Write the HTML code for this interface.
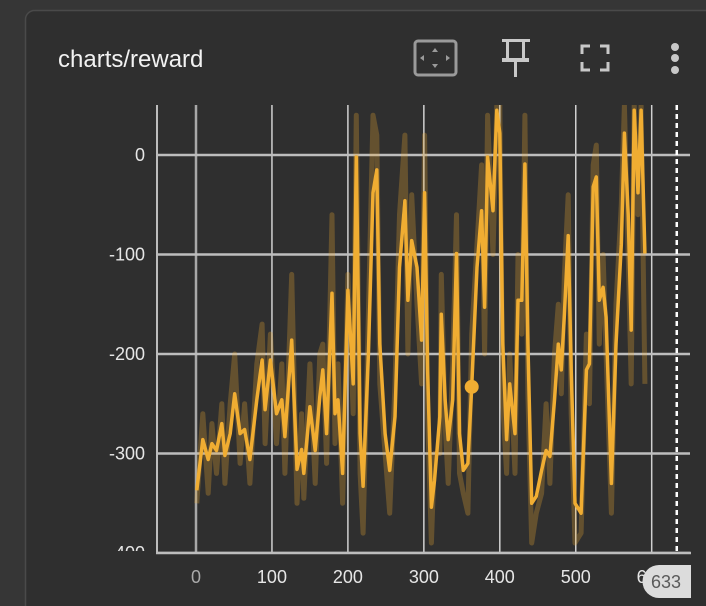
<!DOCTYPE html>
<html><head><meta charset="utf-8"><style>
html,body{margin:0;padding:0;background:#363636;width:706px;height:606px;overflow:hidden;font-family:"Liberation Sans",sans-serif}
svg{display:block}
</style></head><body>
<svg id="chart" width="706" height="606" xmlns="http://www.w3.org/2000/svg">
<rect x="25.5" y="10.5" width="700" height="620" rx="9" fill="#2f2f2f" stroke="#4a4a4a" stroke-width="1.5"/>
<text x="58" y="67" font-size="24" fill="#f2f2f2">charts/reward</text>
<g>
<rect x="415" y="41" width="41" height="34" rx="3" fill="none" stroke="#9a9a9a" stroke-width="3"/>
<path d="M435 48 l-3 4 h6z M435 68 l-3 -4 h6z M420 58 l4 -3 v6z M450 58 l-4 -3 v6z" fill="#9a9a9a"/>
</g>
<g fill="#c8c8c8">
<rect x="502" y="39" width="28" height="3"/>
<rect x="506" y="41" width="3" height="19"/><rect x="522" y="41" width="3" height="19"/>
<rect x="502" y="58" width="27" height="4"/>
<rect x="514" y="61" width="3" height="16"/>
</g>
<g fill="none" stroke="#c8c8c8" stroke-width="3">
<path d="M582 54 v-8 h8 M600 46 h8 v8 M608 62 v8 h-8 M590 70 h-8 v-8"/>
</g>
<g fill="#c8c8c8">
<circle cx="675" cy="47" r="4"/><circle cx="675" cy="58" r="4"/><circle cx="675" cy="70" r="4"/>
</g>
<defs><clipPath id="plotclip"><rect x="157" y="105" width="533" height="448"/></clipPath>
<clipPath id="labelclip"><rect x="0" y="100" width="160" height="451"/></clipPath></defs>
<g id="grid" clip-path="url(#plotclip)"></g>
<g id="ylabels" clip-path="url(#labelclip)"></g>
<g id="xlabels"></g>
<g id="series" clip-path="url(#plotclip)"></g>
<line x1="157" y1="105" x2="157" y2="553" stroke="#bdbdbd" stroke-width="2"/>
<line x1="156" y1="553" x2="691" y2="553" stroke="#bdbdbd" stroke-width="2.5"/>
<g id="badge"></g>
</svg>
<script>
const xTicks = [0,100,200,300,400,500,600];
const yTicks = [0,-100,-200,-300,-400];
const xTickLabels = ["0","100","200","300","400","500","600"];
const yTickLabels = ["0","-100","-200","-300","-400"];
const steps = [1,9,16,21,27,34,38,45,51,58,64,71,80,87,91,98,106,113,117,126,133,139,142,150,157,163,167,172,179,183,187,193,200,207,211,216,220,227,233,238,242,249,255,262,268,275,279,284,291,297,301,305,310,314,321,323,328,332,338,343,347,352,358,363,370,376,380,384,391,396,400,404,409,413,420,424,429,433,437,442,448,455,461,466,472,477,481,485,490,494,499,507,514,518,523,527,531,536,540,547,553,560,564,569,573,577,582,586,591];
const smoothed = [-337,-286,-306,-290,-297,-270,-302,-280,-240,-280,-276,-306,-246,-206,-256,-206,-260,-246,-283,-186,-316,-296,-320,-253,-297,-243,-216,-280,-139,-260,-246,-320,-136,-230,-2,-280,-333,-200,-38,-15,-190,-280,-317,-263,-113,-46,-146,-86,-113,-186,-38,-216,-354,-327,-263,-160,-246,-286,-246,-99,-280,-317,-310,-233,-113,-56,-153,-2,-56,45,22,-190,-286,-230,-280,-146,-146,-9,-190,-350,-343,-317,-297,-303,-246,-190,-216,-160,-81,-216,-350,-360,-216,-210,-32,-22,-146,-133,-163,-330,-190,-90,22,-60,-176,45,-38,45,-99];
const raw = [-350,-260,-340,-270,-320,-250,-330,-250,-200,-310,-250,-330,-210,-170,-290,-180,-290,-210,-320,-120,-350,-260,-345,-210,-330,-200,-190,-310,-60,-290,-210,-350,-120,-260,40,-320,-380,-160,40,20,-230,-300,-360,-230,-60,20,-200,-40,-150,-230,20,-260,-390,-300,-300,-120,-270,-330,-210,-60,-320,-340,-360,-180,-90,-10,-200,40,-100,50,50,-250,-320,-200,-320,-100,-180,40,-240,-390,-360,-340,-250,-330,-200,-150,-240,-120,-40,-260,-390,-380,-180,-250,-10,10,-190,-100,-200,-360,-150,-50,50,-100,-230,50,-60,50,-230];
const markerStep = 363;
const lastStep = 633;

const NS = "http://www.w3.org/2000/svg";
function xs(v){ return 196 + v*0.7595; }
function ys(v){ return 155 - v*0.995; }
function mk(tag, attrs, parent){ const e=document.createElementNS(NS,tag); for(const k in attrs) e.setAttribute(k,attrs[k]); parent.appendChild(e); return e; }

const grid=document.getElementById('grid');
xTicks.forEach((t,i)=>{
  const l=mk('line',{x1:xs(t),x2:xs(t),y1:100,y2:557,stroke:(t===0?'#a8a8a8':'#d0d0d0'),'stroke-width':(t===0?2.5:1.5)},grid);
  
  
});
yTicks.forEach((t,i)=>{
  const l=mk('line',{x1:157,x2:690,y1:ys(t),y2:ys(t),stroke:'#bdbdbd','stroke-width':2.5},grid);
  
  
});
const yl=document.getElementById('ylabels');
yTicks.forEach((t,i)=>{
  const tx=mk('text',{x:145,y:ys(t)+6,'text-anchor':'end','font-size':18,fill:'#e6e6e6'},yl);
  tx.textContent=yTickLabels[i];
  
  
});
const xl=document.getElementById('xlabels');
xTicks.forEach((t,i)=>{
  const tx=mk('text',{x:xs(t),y:583,'text-anchor':'middle','font-size':18,fill:(t===0?'#aaaaaa':'#e6e6e6')},xl);
  tx.textContent=xTickLabels[i];
  
  
});
const sg=document.getElementById('series');
const rawPts=steps.map((s,i)=>xs(s).toFixed(1)+','+ys(raw[i]).toFixed(1)).join(' ');
const rl=mk('polyline',{points:rawPts,fill:'none',stroke:'#f0ad32','stroke-opacity':0.28,'stroke-width':5,'stroke-linejoin':'round'},sg);


const smPts=steps.map((s,i)=>xs(s).toFixed(1)+','+ys(smoothed[i]).toFixed(1)).join(' ');
const sl=mk('polyline',{points:smPts,fill:'none',stroke:'#f0ad32','stroke-width':3.5,'stroke-linejoin':'round'},sg);


const mi=steps.indexOf(markerStep);
const mc=mk('circle',{cx:xs(markerStep),cy:ys(smoothed[mi]),r:7,fill:'#f0ad32'},sg);


const dl=mk('line',{x1:xs(lastStep),x2:xs(lastStep),y1:105,y2:553,stroke:'#ffffff','stroke-width':2.5,'stroke-dasharray':'5,4'},document.getElementById('chart'));


const bg=document.getElementById('badge');
bg.parentNode.appendChild(bg);
const br=mk('path',{d:'M659 565 H691 V598 H659 A16.5 16.5 0 0 1 659 565 Z',fill:'#dcdcdc'},bg);


const bt=mk('text',{x:666,y:588,'text-anchor':'middle','font-size':18,fill:'#5a5a5a'},bg);
bt.textContent=String(lastStep);


</script>
</body></html>
